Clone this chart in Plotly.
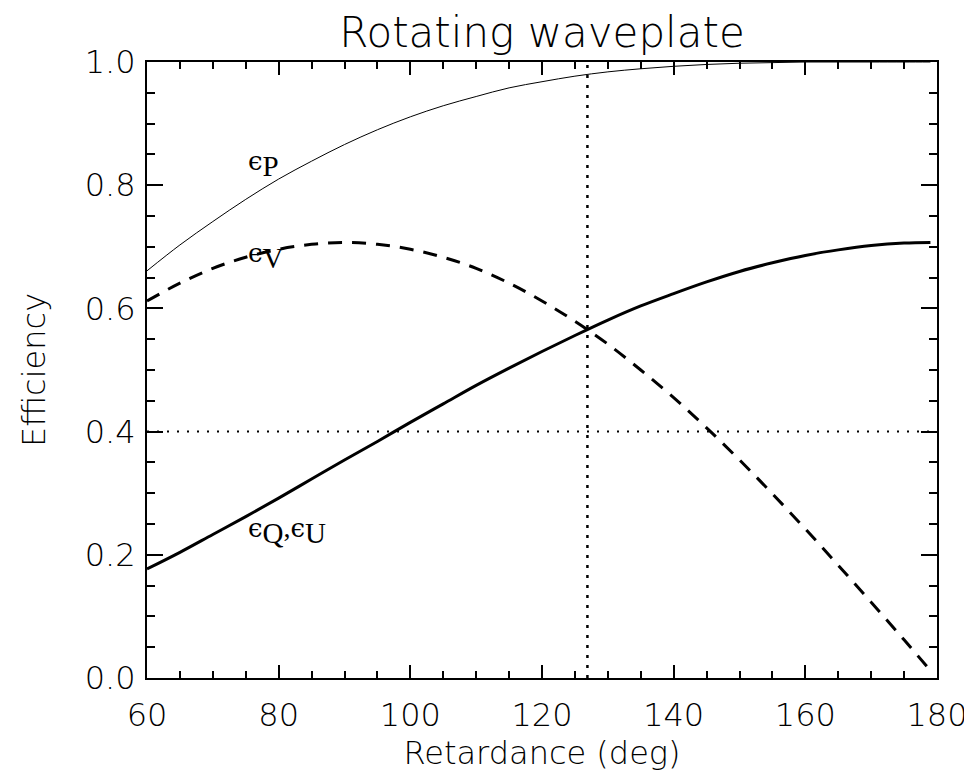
import plotly.graph_objects as go

# Retardance (deg)
retardance = [60, 65, 70, 75, 80, 85, 90, 95, 100, 105, 110, 115, 120, 125, 130,
              135, 140, 145, 150, 155, 160, 165, 170, 175, 179]
# Efficiency
eps_P = [0.661, 0.703, 0.741, 0.777, 0.810, 0.839, 0.866, 0.890, 0.911, 0.929,
         0.944, 0.958, 0.968, 0.977, 0.984, 0.989, 0.993, 0.996, 0.998, 0.999,
         1.000, 1.000, 1.000, 1.000, 1.000]
eps_V = [0.612, 0.641, 0.665, 0.683, 0.696, 0.704, 0.707, 0.704, 0.696, 0.683,
         0.665, 0.641, 0.612, 0.579, 0.542, 0.500, 0.455, 0.406, 0.354, 0.299,
         0.242, 0.183, 0.123, 0.062, 0.012]
eps_QU = [0.177, 0.204, 0.233, 0.262, 0.292, 0.323, 0.354, 0.384, 0.415, 0.445,
          0.475, 0.503, 0.530, 0.556, 0.581, 0.604, 0.624, 0.643, 0.660, 0.674,
          0.686, 0.695, 0.702, 0.706, 0.707]

crossing_x = 126.9
ref_level = 0.4
x_range = [60, 180]
y_range = [0.0, 1.0]

EPS = "<span style='font-family:DejaVu Serif;font-size:26px'>ϵ</span>"


def sub(s):
    return "<sub><span style='font-size:29px'>" + s + "</span></sub>"


labels = [
    (EPS + sub("P"), 75.0, 0.835),
    (EPS + sub("V"), 75.0, 0.685),
    (EPS + sub("Q") + "," + EPS + sub("U"), 75.0, 0.240),
]

FONT = "DejaVu Sans"

fig = go.Figure()
fig.add_trace(go.Scatter(x=retardance, y=eps_P, mode="lines", line=dict(color="black", width=1, shape="spline"),
                         showlegend=False))
fig.add_trace(go.Scatter(x=retardance, y=eps_V, mode="lines",
                         line=dict(color="black", width=3, dash="14px,10px", shape="spline"), showlegend=False))
fig.add_trace(go.Scatter(x=retardance, y=eps_QU, mode="lines", line=dict(color="black", width=3, shape="spline"),
                         showlegend=False))
# reference lines
fig.add_trace(go.Scatter(x=x_range, y=[ref_level, ref_level], mode="lines",
                         line=dict(color="black", width=2, dash="2px,8px"), showlegend=False))
fig.add_trace(go.Scatter(x=[crossing_x, crossing_x], y=y_range, mode="lines",
                         line=dict(color="black", width=2.5, dash="3px,7px"), showlegend=False))

for txt, xx, yy in labels:
    fig.add_annotation(x=xx, y=yy, xref="x", yref="y", text=txt, showarrow=False,
                       xanchor="left", yanchor="middle",
                       font=dict(family="Liberation Serif", size=28, color="black"))

fig.update_layout(
    width=964, height=768, autosize=False,
    margin=dict(l=139, r=35, t=54, b=98),
    plot_bgcolor="white", paper_bgcolor="white",
    title=dict(text="Rotating waveplate", x=0.5, xanchor="center", xref="paper",
               y=0.988, yanchor="top",
               font=dict(family=FONT, size=42, color="black", weight=200)),
    font=dict(family=FONT, color="black"),
)
fig.update_xaxes(
    range=x_range, tickvals=[60, 80, 100, 120, 140, 160, 180], automargin=False,
    ticks="inside", ticklen=13, tickwidth=1.5, tickcolor="black",
    minor=dict(dtick=5, ticks="inside", ticklen=7, tickwidth=1.5, tickcolor="black"),
    showline=True, linecolor="black", linewidth=2, mirror="ticks",
    showgrid=False, zeroline=False,
    tickfont=dict(family=FONT, size=32, weight=200, color="black"), ticklabelstandoff=8,
    title=dict(text="Retardance (deg)", font=dict(family=FONT, size=32, weight=200, color="black"), standoff=4),
)
fig.update_yaxes(
    range=y_range, tickvals=[0, 0.2, 0.4, 0.6, 0.8, 1.0], tickformat=".1f", automargin=False,
    ticks="inside", ticklen=16, tickwidth=1.5, tickcolor="black",
    minor=dict(dtick=0.05, ticks="inside", ticklen=8, tickwidth=1.5, tickcolor="black"),
    showline=True, linecolor="black", linewidth=2, mirror="ticks",
    showgrid=False, zeroline=False,
    tickfont=dict(family=FONT, size=32, weight=200, color="black"), ticklabelstandoff=3,
    title=dict(text="Efficiency", font=dict(family=FONT, size=32, weight=200, color="black"), standoff=30),
)

fig.write_html("out.html")
